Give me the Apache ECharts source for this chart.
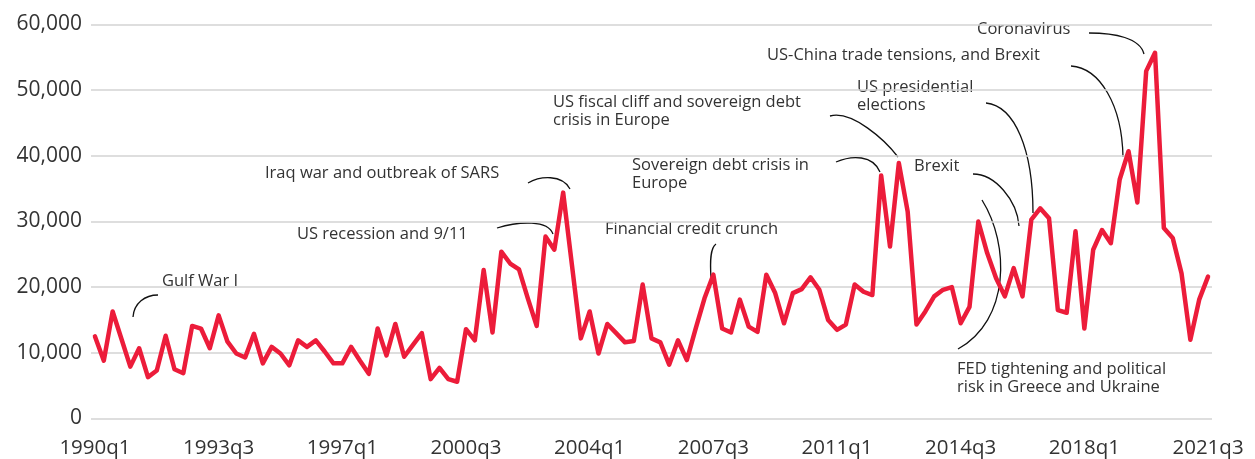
<!DOCTYPE html>
<html>
<head>
<meta charset="utf-8">
<script src="https://cdn.jsdelivr.net/npm/echarts@6/dist/echarts.min.js"></script>
<style>
  html, body { margin: 0; padding: 0; background: #fff; }
  #chart { width: 1255px; height: 459px; }
</style>
</head>
<body>
<div id="chart"></div>
<script>
// quarterly values, 1990q1 .. 2021q3
const values = [
  12500, 8800, 16300, 12100, 7900, 10700, 6300, 7300, 12600, 7500,
  6900, 14100, 13700, 10700, 15700, 11700, 9900, 9300, 12900, 8400,
  10900, 9900, 8100, 11900, 10900, 11900, 10200, 8400, 8400, 10900,
  8800, 6800, 13700, 9600, 14400, 9400, 11200, 13000, 6000, 7700,
  6000, 5600, 13600, 11900, 22600, 13100, 25400, 23600, 22700, 18300,
  14100, 27700, 25700, 34400, 23300, 12200, 16300, 9900, 14400, 13000,
  11600, 11800, 20400, 12200, 11600, 8200, 11900, 8900, 13700, 18300,
  21900, 13700, 13100, 18100, 14000, 13200, 21900, 19100, 14500, 19100,
  19700, 21500, 19600, 15000, 13500, 14300, 20400, 19300, 18800, 37000,
  26200, 38900, 31500, 14300, 16300, 18600, 19600, 20000, 14500, 17000,
  30000, 25200, 21400, 18600, 22900, 18600, 30300, 32000, 30500, 16500,
  16100, 28500, 13700, 25700, 28700, 26700, 36400, 40700, 32900, 52900,
  55700, 29000, 27500, 22100, 12000, 18100, 21600
];

const tickLabels = ['1990q1', '1993q3', '1997q1', '2000q3', '2004q1', '2007q3', '2011q1', '2014q3', '2018q1', '2021q3'];
const tickStep = 14; // quarters between labels

const yTicks = [0, 10000, 20000, 30000, 40000, 50000, 60000];

const noteTexts = [
  'Gulf War I',
  'Iraq war and outbreak of SARS',
  'US recession and 9/11',
  'US fiscal cliff and sovereign debt\ncrisis in Europe',
  'Sovereign debt crisis in\nEurope',
  'Financial credit crunch',
  'US-China trade tensions, and Brexit',
  'US presidential\nelections',
  'Brexit',
  'Coronavirus',
  'FED tightening and political\nrisk in Greece and Ukraine'
];

// layout of the annotations (pixel positions, first-line centre)
const noteLayout = [
  { x: 162, y: 281, c: [158, 295, 145, 295, 134, 303, 133, 317] },
  { x: 265, y: 173, c: [528, 183, 540, 176, 562, 174, 570, 189] },
  { x: 297, y: 234, c: [497, 228, 520, 221, 548, 220, 553, 234] },
  { x: 553, y: 102, c: [830, 116, 852, 110, 885, 140, 898, 157] },
  { x: 632, y: 165, c: [836, 162, 852, 155, 873, 155, 880, 172] },
  { x: 605, y: 229, c: [716, 244, 710, 248, 710, 262, 711, 278] },
  { x: 767, y: 55,  c: [1071, 66, 1100, 68, 1122, 105, 1123, 157] },
  { x: 857, y: 87,  c: [986, 103, 1015, 106, 1033, 150, 1033, 213] },
  { x: 914, y: 166, c: [973, 174, 995, 174, 1017, 200, 1019, 226] },
  { x: 977, y: 29,  c: [1089, 33, 1115, 33, 1140, 38, 1144, 54] },
  { x: 957, y: 369, c: [982, 200, 1010, 245, 1010, 320, 958, 349] }
];

const lineHeight = 18;
const graphics = [];
noteTexts.forEach(function (t, i) {
  const l = noteLayout[i];
  graphics.push({
    type: 'text', silent: true, x: l.x, y: l.y - lineHeight / 2,
    style: { text: t, font: '16.5px "Open Sans"', fill: '#333', verticalAlign: 'top', lineHeight: lineHeight }
  });
  const c = l.c;
  graphics.push({
    type: 'bezierCurve', silent: true,
    shape: { x1: c[0], y1: c[1], cpx1: c[2], cpy1: c[3], cpx2: c[4], cpy2: c[5], x2: c[6], y2: c[7] },
    style: { stroke: '#111', lineWidth: 1.3, fill: null }
  });
});

const chart = echarts.init(document.getElementById('chart'));
chart.setOption({
  animation: false,
  textStyle: { fontFamily: 'Open Sans' },
  grid: { left: 91, right: 43, top: 24.5, bottom: 40.5, containLabel: false, outerBoundsMode: 'none' },
  xAxis: {
    type: 'value',
    min: -0.45,
    max: values.length - 1 + 0.45,
    axisLine: { show: false },
    axisTick: { show: false },
    splitLine: { show: false },
    axisLabel: {
      customValues: tickLabels.map(function (_, i) { return i * tickStep; }),
      formatter: function (v) { return tickLabels[Math.round(v / tickStep)]; },
      color: '#333', fontSize: 20.5, margin: 19
    }
  },
  yAxis: {
    type: 'value',
    min: yTicks[0],
    max: yTicks[yTicks.length - 1],
    interval: 10000,
    axisLine: { show: false },
    axisTick: { show: false },
    splitLine: { lineStyle: { color: '#d3d3d3', width: 1.6 } },
    axisLabel: {
      color: '#333', fontSize: 21, margin: 9,
      formatter: function (v) { return v.toLocaleString('en-US'); }
    }
  },
  series: [{
    type: 'line',
    data: values.map(function (v, i) { return [i, v]; }),
    showSymbol: false,
    symbol: 'none',
    lineStyle: { color: '#ec1c3a', width: 4.5, join: 'round', cap: 'round' },
    z: 3
  }],
  graphic: graphics
});
</script>
</body>
</html>
